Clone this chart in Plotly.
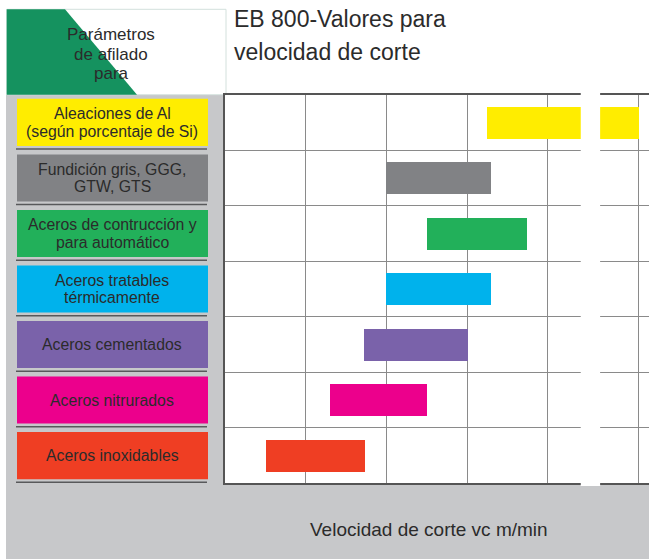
import plotly.graph_objects as go

W, H = 649, 559

# ---------------- data ----------------
categories = [
    "Aleaciones de Al<br>(según porcentaje de Si)",
    "Fundición gris, GGG,<br>GTW, GTS",
    "Aceros de contrucción y<br>para automático",
    "Aceros tratables<br>térmicamente",
    "Aceros cementados",
    "Aceros nitrurados",
    "Aceros inoxidables",
]
range_start = [3.25, 1.99, 2.50, 1.99, 1.72, 1.30, 0.51]
range_end = [5.13, 3.30, 3.74, 3.30, 3.01, 2.50, 1.74]
colors = ["#FFED00", "#818285", "#22B05A", "#00B2EC", "#7A62AA", "#EC008C", "#EF3E23"]
grid_positions = [1, 2, 3, 4, 5.13]
axis_break = [4.41, 4.65]
header_lines = ["Parámetros", "de afilado", "para"]
title_lines = ["EB 800-Valores para", "velocidad de corte"]
x_title = "Velocidad de corte vc m/min"

FONT = "Liberation Sans, Arial, Helvetica, sans-serif"


def px(x):
    return x / W


def py(y):
    return 1 - y / H


rows = list(range(len(categories)))

fig = go.Figure()
fig.add_trace(go.Bar(
    y=rows,
    x=[e - s for s, e in zip(range_start, range_end)],
    base=range_start,
    orientation="h",
    marker=dict(color=colors, line=dict(width=0)),
    width=0.58,
    hoverinfo="skip",
    showlegend=False,
))

shapes = []
# gray panels
shapes.append(dict(type="rect", xref="paper", yref="paper",
                   x0=px(6), x1=px(225), y0=0, y1=py(95),
                   fillcolor="#C7C8CA", line=dict(width=0), layer="below"))
shapes.append(dict(type="rect", xref="paper", yref="paper",
                   x0=px(6), x1=1, y0=0, y1=py(484.5),
                   fillcolor="#C7C8CA", line=dict(width=0), layer="below"))
# header box
shapes.append(dict(type="rect", xref="paper", yref="paper",
                   x0=px(6.7), x1=px(226), y0=py(94.7), y1=py(9.3),
                   fillcolor="rgba(0,0,0,0)", line=dict(color="#D3E0DC", width=1), layer="below"))
shapes.append(dict(type="path", xref="paper", yref="paper",
                   path="M {a},{b} L {c},{b} L {d},{e} L {a},{e} Z".format(
                       a=px(6.7), b=py(9.3), c=px(65), d=px(137), e=py(94.7)),
                   fillcolor="#15925F", line=dict(width=0), layer="below"))

annotations = []
for i, (cat, col) in enumerate(zip(categories, colors)):
    shapes.append(dict(type="rect", xref="paper", yref="y",
                       x0=px(17), x1=px(208), y0=i - 0.425, y1=i + 0.425,
                       fillcolor=col, line=dict(width=0), layer="below"))
    shapes.append(dict(type="line", xref="paper", yref="y",
                       x0=px(16), x1=px(207), y0=i + 0.48, y1=i + 0.48,
                       line=dict(color="#58595B", width=1.5), layer="below"))
    lines = cat.split("<br>")
    n = len(lines)
    for k, ln in enumerate(lines):
        annotations.append(dict(
            text=ln, xref="paper", yref="y", x=px(112), y=i,
            yshift=(n - 1) / 2 * 17.7 - k * 17.7,
            xanchor="center", yanchor="middle", showarrow=False,
            font=dict(family=FONT, size=15.8, color="#2B2B2B")))

# axis break gap
shapes.append(dict(type="rect", xref="x", yref="paper",
                   x0=axis_break[0], x1=axis_break[1], y0=py(486), y1=py(93),
                   fillcolor="white", line=dict(width=0), layer="above"))

for txt, ymid in zip(header_lines, [34.8, 54.8, 74.0]):
    annotations.append(dict(text=txt, xref="paper", yref="paper", x=px(111), y=py(ymid),
                            xanchor="center", yanchor="middle", showarrow=False,
                            font=dict(family=FONT, size=17, color="#2B2B2B")))
for txt, ymid in zip(title_lines, [19.0, 51.6]):
    annotations.append(dict(text=txt, xref="paper", yref="paper", x=px(232), y=py(ymid),
                            xanchor="left", yanchor="middle", showarrow=False,
                            font=dict(family=FONT, size=23, color="#2B2B2B")))
annotations.append(dict(text=x_title, xref="paper", yref="paper", x=px(429), y=py(529),
                        xanchor="center", yanchor="middle", showarrow=False,
                        font=dict(family=FONT, size=19, color="#2B2B2B")))

fig.update_layout(
    width=W, height=H,
    margin=dict(l=0, r=0, t=0, b=0),
    paper_bgcolor="white", plot_bgcolor="white",
    showlegend=False,
    bargap=0,
    xaxis=dict(domain=[px(225), 1], range=[0, 424 / 80.67],
               tickvals=grid_positions, showticklabels=False, ticks="",
               showgrid=True, gridcolor="#8A8A8A", gridwidth=1,
               showline=True, linecolor="#555555", linewidth=2, mirror=True,
               zeroline=False, fixedrange=True),
    yaxis=dict(domain=[py(483.3), py(94.7)], range=[6.5, -0.5],
               tickvals=[r + 0.5 for r in rows[:-1]], showticklabels=False, ticks="",
               showgrid=True, gridcolor="#8A8A8A", gridwidth=1,
               showline=True, linecolor="#555555", linewidth=2,
               zeroline=False, fixedrange=True),
    shapes=shapes,
    annotations=annotations,
    font=dict(family=FONT),
)

fig.write_html("out.html", config={"displayModeBar": False},
               post_script="document.body.style.margin='0';document.body.style.overflow='hidden';")
